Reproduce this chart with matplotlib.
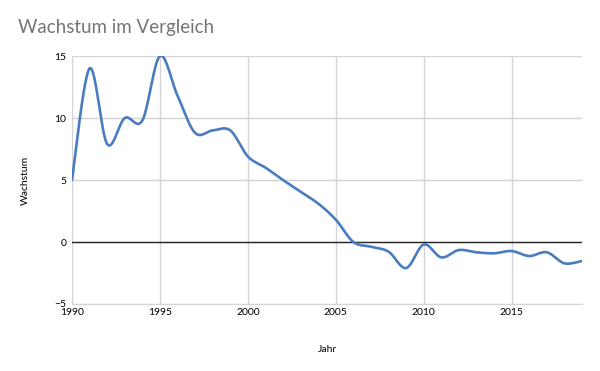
import numpy as np
import matplotlib
matplotlib.use("Agg")
import matplotlib.pyplot as plt

years = list(range(1990, 2020))
wachstum = [5.0, 14.0, 7.9, 10.0, 9.8, 15.0, 11.8, 8.8, 9.0, 9.0,
            6.9, 6.0, 5.0, 4.05, 3.1, 1.8, 0.0, -0.38, -0.78, -2.1,
            -0.2, -1.24, -0.65, -0.83, -0.91, -0.73, -1.13, -0.83, -1.72, -1.53]
xticks = [1990, 1995, 2000, 2005, 2010, 2015]
yticks = [-5, 0, 5, 10, 15]

plt.rcParams['font.family'] = ['Lato', 'DejaVu Sans']

def smooth(x, y, n=30):
    x = np.asarray(x, float); y = np.asarray(y, float)
    xs, ys = [], []
    for i in range(len(x) - 1):
        p0 = np.array([x[max(i-1, 0)], y[max(i-1, 0)]])
        p1 = np.array([x[i], y[i]])
        p2 = np.array([x[i+1], y[i+1]])
        p3 = np.array([x[min(i+2, len(x)-1)], y[min(i+2, len(x)-1)]])
        c1 = p1 + (p2 - p0) / 6.0
        c2 = p2 - (p3 - p1) / 6.0
        t = np.linspace(0, 1, n, endpoint=(i == len(x) - 2))[:, None]
        pts = (1-t)**3*p1 + 3*(1-t)**2*t*c1 + 3*(1-t)*t**2*c2 + t**3*p2
        xs.append(pts[:, 0]); ys.append(pts[:, 1])
    return np.concatenate(xs), np.concatenate(ys)

fig = plt.figure(figsize=(6.0, 3.71), dpi=100)
ax = fig.add_axes([0.12, 0.1806, 0.85, 0.6684])

sx, sy = smooth(years, wachstum)
ax.plot(sx, sy, color='#4A7DC0', lw=1.9, zorder=3, solid_capstyle='round')

ax.set_xlim(1990, 2019)
ax.set_ylim(-5, 15)
ax.set_xticks(xticks)
ax.set_yticks(yticks)
ax.grid(True, color='#D4D4D4', lw=1.0, zorder=0)
ax.axhline(0, color='#262626', lw=1.0, zorder=2)
for s in ['top', 'right', 'left']:
    ax.spines[s].set_visible(False)
ax.spines['bottom'].set_color('#D4D4D4')
ax.tick_params(axis='both', length=0, labelsize=7.5, colors='#000000')
ax.tick_params(axis='x', pad=3)
ax.tick_params(axis='y', pad=4)

ax.set_xlabel('Jahr', fontsize=7.5, labelpad=20)
ax.set_ylabel('Wachstum', fontsize=7.5, labelpad=18)
fig.text(0.03, 0.925, 'Wachstum im Vergleich', fontsize=13.5, color='#757575',
         ha='left', va='center')

fig.savefig('out.png', dpi=100)
